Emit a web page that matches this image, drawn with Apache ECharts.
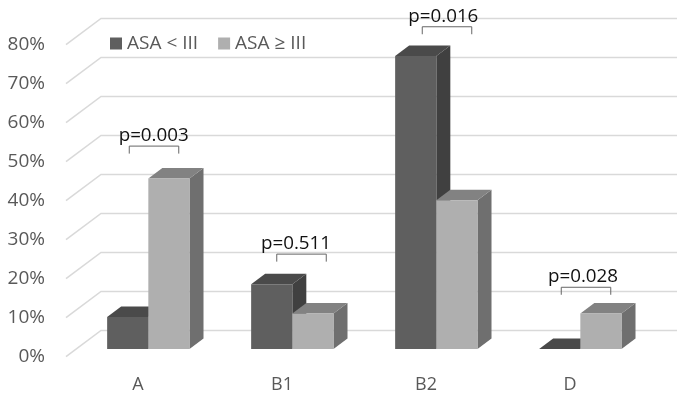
<!DOCTYPE html>
<html>
<head>
<meta charset="utf-8">
<style>html,body{margin:0;padding:0;background:#fff}#c{width:685px;height:398px}</style>
<script src="https://cdn.jsdelivr.net/npm/echarts@6/dist/echarts.min.js"></script>
</head>
<body>
<div id="c"></div>
<script>
const categories = ['A', 'B1', 'B2', 'D'];
const seriesNames = ['ASA < III', 'ASA \u2265 III'];
const asaLow = [8.2, 16.6, 75.1, 0];
const asaHigh = [43.7, 9.1, 38.1, 9.1];
const pLabels = ['p=0.003', 'p=0.511', 'p=0.016', 'p=0.028'];
const bracketLevels = [54, 26.3, 84.6, 17.8];
const gridLevels = [0, 10, 20, 30, 40, 50, 60, 70, 80];

// 3D projection of the reference chart, in pixels
const DEPTH_X = 35, DEPTH_Y = 26.3;
const BAR_FRONT = 0.295, BAR_BACK = 0.695;
const BAR_SHARE = 0.286;
const bracketShift = [16, 19.5, 21, 16];
const textShift = [-0.3, -5.5, -3.7, -3];
const BRACKET_W = 49.5, BRACKET_H = 7.5;

const palette = [
  { front: '#5f5f5f', top: '#4a4a4a', side: '#404040' },
  { front: '#afafaf', top: '#828282', side: '#6f6f6f' }
];

function barRenderer(slot) {
  return function (params, api) {
    const p = api.coord([api.value(0), api.value(1)]);
    const base = api.coord([api.value(0), 0]);
    const w = api.size([1, 0])[0] * BAR_SHARE;
    const fx = DEPTH_X * BAR_FRONT, fy = DEPTH_Y * BAR_FRONT;
    const dx = DEPTH_X * (BAR_BACK - BAR_FRONT), dy = DEPTH_Y * (BAR_BACK - BAR_FRONT);
    const x0 = base[0] + fx + (slot - 1) * w, x1 = x0 + w;
    const yb = base[1] - fy, yt = p[1] - fy;
    const c = palette[slot];
    const poly = (points, fill) => ({
      type: 'polygon', shape: { points }, style: { fill, stroke: null }
    });
    return {
      type: 'group',
      children: [
        poly([[x1, yb], [x1 + dx, yb - dy], [x1 + dx, yt - dy], [x1, yt]], c.side),
        poly([[x0, yt], [x1, yt], [x1 + dx, yt - dy], [x0 + dx, yt - dy]], c.top),
        poly([[x0, yb], [x1, yb], [x1, yt], [x0, yt]], c.front)
      ]
    };
  };
}

function gridRenderer(params, api) {
  const cs = params.coordSys;
  const y = api.coord([0, api.value(0)])[1];
  return {
    type: 'polyline',
    shape: { points: [[cs.x, y], [cs.x + DEPTH_X, y - DEPTH_Y], [cs.x + cs.width + DEPTH_X, y - DEPTH_Y]] },
    style: { fill: null, stroke: '#d9d9d9', lineWidth: 1.5 }
  };
}

function noteRenderer(params, api) {
  const i = api.value(0);
  const p = api.coord([i, api.value(1)]);
  const x = p[0] + bracketShift[i], y = p[1];
  const hw = BRACKET_W / 2;
  return {
    type: 'group',
    children: [
      { type: 'polyline',
        shape: { points: [[x - hw, y + BRACKET_H], [x - hw, y], [x + hw, y], [x + hw, y + BRACKET_H]] },
        style: { fill: null, stroke: '#666', lineWidth: 1 } },
      { type: 'text',
        style: { text: pLabels[i], x: x + textShift[i], y: y - 1, align: 'center', verticalAlign: 'bottom',
                 fill: '#111', font: '18.8px "Open Sans"' } }
    ]
  };
}

const chart = echarts.init(document.getElementById('c'), null, { renderer: 'canvas' });
chart.setOption({
  animation: false,
  backgroundColor: '#fff',
  textStyle: { fontFamily: '"Open Sans"' },
  grid: { left: 66, top: 44.7, width: 576, height: 312, containLabel: false },
  legend: {
    left: 105, top: 29, itemWidth: 12, itemHeight: 12, itemGap: 20, icon: 'rect',
    data: seriesNames,
    textStyle: { color: '#595959', fontSize: 19, fontFamily: '"Open Sans"' }
  },
  xAxis: {
    type: 'category', data: categories,
    axisLine: { show: false }, axisTick: { show: false }, splitLine: { show: false },
    axisLabel: { color: '#595959', fontSize: 18, margin: 19, fontFamily: '"Open Sans"' }
  },
  yAxis: {
    type: 'value', min: 0, max: 80, interval: 10,
    axisLine: { show: false }, axisTick: { show: false }, splitLine: { show: false },
    axisLabel: { formatter: '{value}%', color: '#595959', fontSize: 19, margin: 21, fontFamily: '"Open Sans"' }
  },
  series: [
    { type: 'custom', name: 'grid', silent: true, z: 1, renderItem: gridRenderer,
      data: gridLevels.map(v => [v]), encode: { y: 0 } },
    { type: 'custom', name: seriesNames[0], silent: true, z: 2, renderItem: barRenderer(0),
      itemStyle: { color: palette[0].front },
      data: asaLow.map((v, i) => [i, v]), encode: { x: 0, y: 1 } },
    { type: 'custom', name: seriesNames[1], silent: true, z: 3, renderItem: barRenderer(1),
      itemStyle: { color: palette[1].front },
      data: asaHigh.map((v, i) => [i, v]), encode: { x: 0, y: 1 } },
    { type: 'custom', name: 'notes', silent: true, z: 4, renderItem: noteRenderer,
      data: bracketLevels.map((v, i) => [i, v]), encode: { x: 0, y: 1 } }
  ]
});
</script>
</body>
</html>
